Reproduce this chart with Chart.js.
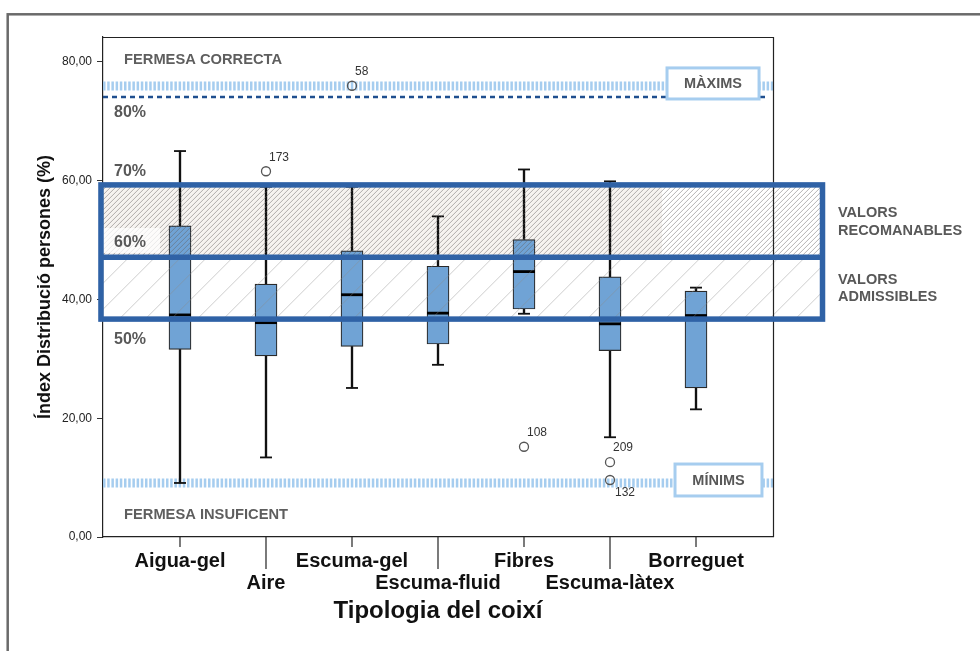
<!DOCTYPE html>
<html>
<head>
<meta charset="utf-8">
<script src="https://cdn.jsdelivr.net/npm/chart.js@4"></script>
<style>
html,body{margin:0;padding:0;background:#fff;}
#wrap{width:980px;height:651px;position:relative;}
</style>
</head>
<body>
<div id="wrap"><canvas id="c" width="980" height="651"></canvas></div>
<script>
// ---- data ----
const categories = ['Aigua-gel','Aire','Escuma-gel','Escuma-fluid','Fibres','Escuma-làtex','Borreguet'];
const whiskerLow  = [9.1, 13.4, 25.1, 29.0, 37.6, 16.8, 21.5];
const q1          = [31.6, 30.5, 32.1, 32.5, 38.4, 31.4, 25.1];
const median      = [37.4, 36.1, 40.8, 37.7, 44.7, 35.9, 37.3];
const q3          = [52.4, 42.6, 48.2, 45.6, 50.1, 43.8, 41.4];
const whiskerHigh = [65.0, 59.0, 59.0, 54.0, 61.9, 59.9, 42.0];
const outlierCat   = [1, 2, 4, 5, 5];
const outlierValue = [61.6, 76.0, 15.2, 12.6, 9.6];
const outlierLabel = ['173', '58', '108', '209', '132'];
const yTicks = [0, 20, 40, 60, 80];
const maxLimit = 75.96;     // MÀXIMS band
const minLimit = 9.1;       // MÍNIMS band
const dashedLimit = 74.1;   // 80% line
const recomTop = 59.3, recomBottom = 47.1, admisBottom = 36.7;
const percentLabels = ['80%', '70%', '60%', '50%'];
const percentValues = [71.4, 61.5, 49.55, 33.2];

const X_MIN = -0.8953, X_MAX = 6.8953, Y_MAX = 84.21;
const FONT = '"Liberation Sans", Arial, sans-serif';

const overlay = {
  id: 'overlay',
  beforeDraw(chart) {
    const ctx = chart.ctx;
    ctx.save();
    ctx.fillStyle = '#fff';
    ctx.fillRect(0, 0, chart.width, chart.height);
    ctx.strokeStyle = '#6a6a6a';
    ctx.lineWidth = 2.5;
    ctx.strokeRect(7.7, 14.3, 1100, 800);
    ctx.restore();
  },
  beforeDatasetsDraw(chart) {
    const ctx = chart.ctx, xs = chart.scales.x, ys = chart.scales.y;
    const L = chart.chartArea.left;
    ctx.save();
    ctx.fillStyle = 'rgba(228,220,212,0.35)';
    ctx.fillRect(L, ys.getPixelForValue(recomTop), xs.getPixelForValue(5.605) - L,
      ys.getPixelForValue(recomBottom) - ys.getPixelForValue(recomTop));
    ctx.restore();
  },
  afterDatasetsDraw(chart) {
    const ctx = chart.ctx, xs = chart.scales.x, ys = chart.scales.y, a = chart.chartArea;
    const px = v => xs.getPixelForValue(v), py = v => ys.getPixelForValue(v);
    const rightX = px(7.471), leftX = px(-0.919);
    const yT = py(recomTop), yM = py(recomBottom), yB = py(admisBottom);

    function hatch(x0, y0, x1, y1, sp, color, w) {
      ctx.save();
      ctx.beginPath(); ctx.rect(x0, y0, x1 - x0, y1 - y0); ctx.clip();
      ctx.strokeStyle = color; ctx.lineWidth = w; ctx.beginPath();
      const h = y1 - y0;
      for (let x = x0 - h; x < x1 + sp; x += sp) { ctx.moveTo(x, y1); ctx.lineTo(x + h, y0); }
      ctx.stroke(); ctx.restore();
    }
    hatch(a.left, yT, rightX, yM, 5, 'rgba(100,95,95,0.6)', 0.8);
    hatch(a.left, yM, rightX, yB, 26, 'rgba(140,140,140,0.55)', 0.8);

    // white patch behind 60%
    ctx.save();
    ctx.fillStyle = 'rgba(255,255,255,0.75)';
    ctx.fillRect(a.left, py(52.04), px(-0.233) - a.left, py(47.83) - py(52.04));
    ctx.restore();

    // plot frame top/right
    ctx.save();
    ctx.strokeStyle = '#222'; ctx.lineWidth = 1.2;
    ctx.beginPath();
    ctx.moveTo(a.left, a.top + 0.5); ctx.lineTo(a.right + 0.5, a.top + 0.5); ctx.lineTo(a.right + 0.5, a.bottom);
    ctx.stroke();
    // x tick marks
    categories.forEach((c, i) => {
      const x = px(i);
      ctx.beginPath();
      ctx.moveTo(x, a.bottom); ctx.lineTo(x, a.bottom + (i % 2 ? 32 : 10));
      ctx.stroke();
    });
    ctx.restore();

    // blue rectangles
    ctx.save();
    ctx.strokeStyle = '#2f62a6'; ctx.lineWidth = 5.5;
    ctx.strokeRect(leftX, yT, rightX - leftX, yB - yT);
    ctx.beginPath(); ctx.moveTo(leftX, yM); ctx.lineTo(rightX, yM); ctx.stroke();
    ctx.restore();

    // MÀXIMS / MÍNIMS boxes
    function labelBox(x0v, x1v, y0v, y1v, text) {
      const x0 = px(x0v), x1 = px(x1v), y0 = py(y0v), y1 = py(y1v);
      ctx.save();
      ctx.fillStyle = '#fff';
      ctx.fillRect(x0, y0, x1 - x0, y1 - y0);
      ctx.strokeStyle = '#a6cdef'; ctx.lineWidth = 3;
      ctx.strokeRect(x0, y0, x1 - x0, y1 - y0);
      ctx.fillStyle = '#585858';
      ctx.font = 'bold 14.5px ' + FONT;
      ctx.textAlign = 'center'; ctx.textBaseline = 'middle';
      ctx.fillText(text, (x0 + x1) / 2, (y0 + y1) / 2 + 1);
      ctx.restore();
    }
    labelBox(5.663, 6.733, 79.0, 73.77, 'MÀXIMS');
    labelBox(5.756, 6.767, 12.29, 6.91, 'MÍNIMS');

    // texts
    ctx.save();
    ctx.fillStyle = '#5e5e5e';
    ctx.textAlign = 'left'; ctx.textBaseline = 'middle';
    ctx.font = 'bold 14.7px ' + FONT;
    ctx.fillText('FERMESA CORRECTA', px(-0.651), py(80.4));
    ctx.fillText('FERMESA INSUFICENT', px(-0.651), py(3.75));
    ctx.fillStyle = '#585858';
    ctx.font = 'bold 16px ' + FONT;
    percentLabels.forEach((t, i) => ctx.fillText(t, px(-0.767), py(percentValues[i])));
    ctx.font = 'bold 14.5px ' + FONT;
    ctx.fillText('VALORS', px(7.651), py(54.5));
    ctx.fillText('RECOMANABLES', px(7.651), py(51.6));
    ctx.fillText('VALORS', px(7.651), py(43.2));
    ctx.fillText('ADMISSIBLES', px(7.651), py(40.35));
    // outlier labels
    ctx.fillStyle = '#333';
    ctx.font = '12px ' + FONT;
    outlierCat.forEach((c, i) => {
      const x = px(c) + 3, y = py(outlierValue[i]);
      const below = outlierLabel[i] === '132';
      ctx.fillText(outlierLabel[i], x + (below ? 2 : 0), y + (below ? 13 : -14));
    });
    ctx.restore();
  }
};

const boxData = categories.map((c, i) => ({x: i, y: [q1[i], q3[i]]}));
const lowWhisk = categories.map((c, i) => ({x: i, y: [whiskerLow[i], q1[i]]}));
const highWhisk = categories.map((c, i) => ({x: i, y: [q3[i], whiskerHigh[i]]}));
const caps = categories.map((c, i) => ({x: i, y: whiskerLow[i]}))
  .concat(categories.map((c, i) => ({x: i, y: whiskerHigh[i]})));
const meds = categories.map((c, i) => ({x: i, y: median[i]}));
const outs = outlierCat.map((c, i) => ({x: c, y: outlierValue[i]}));

new Chart(document.getElementById('c'), {
  type: 'bar',
  data: {
    datasets: [
      {type: 'scatter', data: outs, pointStyle: 'circle', pointRadius: 4.5,
        backgroundColor: 'rgba(255,255,255,0)', borderColor: '#555', borderWidth: 1.3, order: 1},
      {type: 'scatter', data: meds, pointStyle: 'line', pointRadius: 11,
        borderColor: '#000', borderWidth: 2.8, order: 2},
      {type: 'scatter', data: caps, pointStyle: 'line', pointRadius: 6,
        borderColor: '#111', borderWidth: 1.8, order: 3},
      {type: 'bar', data: boxData, backgroundColor: '#70a3d5', borderColor: '#2a2a2a',
        borderWidth: 1.2, borderSkipped: false, barThickness: 22, grouped: false, order: 4},
      {type: 'bar', data: lowWhisk, backgroundColor: '#111', borderWidth: 0,
        barThickness: 1.7, grouped: false, order: 5},
      {type: 'bar', data: highWhisk, backgroundColor: '#111', borderWidth: 0,
        barThickness: 1.7, grouped: false, order: 5},
      {type: 'line', data: [{x: X_MIN, y: dashedLimit}, {x: 6.826, y: dashedLimit}],
        borderColor: '#1f4f8f', borderWidth: 2.5, borderDash: [5, 4], pointRadius: 0, order: 8},
      {type: 'line', data: [{x: X_MIN, y: maxLimit}, {x: X_MAX, y: maxLimit}],
        borderColor: '#a6cdef', borderWidth: 9, borderDash: [2.5, 1.7], pointRadius: 0, order: 9},
      {type: 'line', data: [{x: X_MIN, y: minLimit}, {x: X_MAX, y: minLimit}],
        borderColor: '#a6cdef', borderWidth: 9, borderDash: [2.5, 1.7], pointRadius: 0, order: 9}
    ]
  },
  options: {
    responsive: false,
    animation: false,
    events: [],
    layout: {padding: {top: 37, right: 207, left: 0, bottom: 0}},
    plugins: {legend: {display: false}, tooltip: {enabled: false}},
    scales: {
      x: {
        type: 'linear', min: X_MIN, max: X_MAX, offset: false,
        afterBuildTicks: s => { s.ticks = categories.map((c, i) => ({value: i})); },
        afterFit: s => { s.height = 114; },
        grid: {display: false, drawTicks: false, offset: false},
        border: {display: true, color: '#222', width: 1.2},
        ticks: {
          autoSkip: false, maxRotation: 0, minRotation: 0, padding: 13,
          color: '#111', font: {family: FONT, size: 20, weight: 'bold', lineHeight: 1.1},
          callback: v => { const i = Math.round(v); return i % 2 ? ['', categories[i]] : categories[i]; }
        },
        title: {display: true, text: 'Tipologia del coixí', color: '#111',
          font: {family: FONT, size: 24, weight: 'bold', lineHeight: 1.2},
          padding: {top: 0, bottom: 25.6}}
      },
      y: {
        min: 0, max: Y_MAX,
        afterBuildTicks: s => { s.ticks = yTicks.map(v => ({value: v})); },
        afterFit: s => { s.width = 103; },
        grid: {drawOnChartArea: false, drawTicks: true, tickLength: 6, color: '#333'},
        border: {display: true, color: '#222', width: 1.2},
        ticks: {padding: 5, color: '#222', font: {family: FONT, size: 12},
          callback: v => v.toFixed(2).replace('.', ',')},
        title: {display: true, text: 'Índex Distribució persones (%)', color: '#111',
          font: {family: FONT, size: 18, weight: 'bold', lineHeight: 1.2},
          padding: {top: 34.2, bottom: 0}}
      }
    }
  },
  plugins: [overlay]
});
</script>
</body>
</html>
